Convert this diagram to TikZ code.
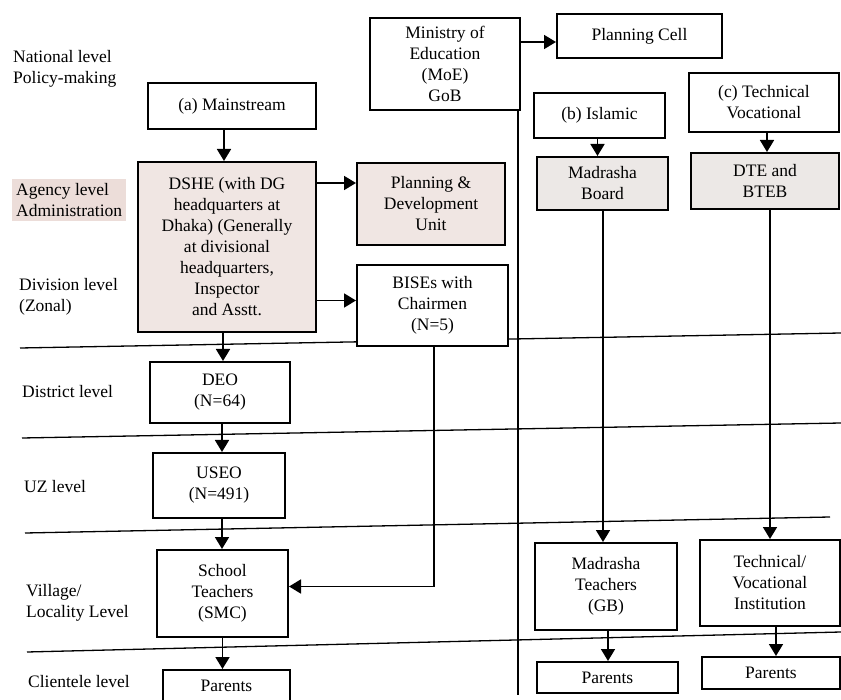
\documentclass[tikz,border=0pt]{standalone}
\usepackage{fontspec}
\setmainfont{Liberation Serif}
\usetikzlibrary{arrows.meta}
\definecolor{agencybg}{RGB}{236,221,217}
\definecolor{dshebg}{RGB}{240,230,227}
\definecolor{boardbg}{RGB}{236,232,230}
\begin{document}
\begin{tikzpicture}[x=1pt,y=-1pt,
  txt/.style={font=\fontsize{17.5}{21}\selectfont, align=center, inner sep=0pt},
  lvl/.style={font=\fontsize{17.5}{21}\selectfont, align=left, inner sep=0pt, anchor=west},
  box/.style={txt, draw, line width=2pt, fill=white},
  arr/.style={line width=1.7pt, -{Triangle[length=12pt,width=14pt]}},
  conn/.style={line width=1.7pt},
  levelline/.style={line width=1.3pt}]
\useasboundingbox (0,0) rectangle (841,700);
\fill[white] (0,0) rectangle (841,700);
% level separator lines
\draw[levelline] (20,348) -- (841,333);
\draw[levelline] (22,438) -- (841,423);
\draw[levelline] (25,533) -- (830,517);
\draw[levelline] (27,652) -- (841,632);
% level labels
\node[lvl] (lnat) at (13,69) {National level\\Policy-making};
\node[lvl, fill=agencybg, inner sep=4pt] (lagency) at (12,200) {Agency level\\Administration};
\node[lvl] (ldiv) at (19,297) {Division level\\(Zonal)};
\node[lvl] (ldist) at (22,392) {District level};
\node[lvl] (luz) at (24,487) {UZ level};
\node[lvl] (lvill) at (26,603) {Village/\\Locality Level};
\node[lvl] (lcli) at (28,682) {Clientele level};
% vertical line from the Ministry
\coordinate (mbot) at (518,695);
\draw[conn] (518,110) -- (mbot);
% boxes
\node[box, minimum width=150pt, minimum height=92pt] (moe) at (445,64) {Ministry of\\Education\\(MoE)\\GoB};
\node[box, minimum width=165pt, minimum height=44pt] (pcell) at (639.5,36) {Planning Cell};
\node[box, minimum width=168pt, minimum height=46pt] (main) at (232,106) {(a) Mainstream};
\node[box, fill=dshebg, minimum width=178pt, minimum height=170pt] (dshe) at (227,247) {DSHE (with DG\\headquarters at\\Dhaka) (Generally\\at divisional\\headquarters,\\Inspector\\and Asstt.};
\node[box, fill=dshebg, minimum width=148pt, minimum height=82pt] (pdu) at (431,204) {Planning \&\\Development\\Unit};
\node[box, minimum width=151pt, minimum height=81pt] (bise) at (432.5,305.5) {BISEs with\\Chairmen\\(N=5)};
\node[box, minimum width=131pt, minimum height=45pt] (isl) at (599.5,115.5) {(b) Islamic};
\node[box, fill=boardbg, minimum width=131pt, minimum height=53pt] (mboard) at (602.5,183.5) {Madrasha\\Board};
\node[box, minimum width=150pt, minimum height=59pt] (tech) at (764,102.5) {(c) Technical\\Vocational};
\node[box, fill=boardbg, minimum width=148pt, minimum height=56pt] (dte) at (765,181) {DTE and\\BTEB};
\node[box, minimum width=140pt, minimum height=61pt] (deo) at (220,392.5) {DEO\\(N=64)};
\node[box, minimum width=132pt, minimum height=65pt] (useo) at (219,485.5) {USEO\\(N=491)};
\node[box, minimum width=131pt, minimum height=87pt] (school) at (222.5,593.5) {School\\Teachers\\(SMC)};
\node[box, minimum width=127pt, minimum height=32pt] (par1) at (226.5,686) {Parents};
\node[box, minimum width=142pt, minimum height=87pt] (mteach) at (606,586.5) {Madrasha\\Teachers\\(GB)};
\node[box, minimum width=140pt, minimum height=86pt] (tinst) at (770,583) {Technical/\\Vocational\\Institution};
\node[box, minimum width=141pt, minimum height=31pt] (par2) at (607.5,677.5) {Parents};
\node[box, minimum width=138pt, minimum height=32pt] (par3) at (771,673) {Parents};
% connectors
\path ([yshift=-6pt]pcell.west) coordinate (pc1);
\draw[arr] (moe.east |- pc1) -- (pc1);
\path ([xshift=-8pt]main.south) coordinate (m1);
\draw[arr] (m1) -- (m1 |- dshe.north);
\path ([yshift=21pt]pdu.west) coordinate (p1);
\draw[arr] (dshe.east |- p1) -- (p1);
\path ([yshift=5pt]bise.west) coordinate (b1);
\draw[arr] (dshe.east |- b1) -- (b1);
\path ([xshift=-4pt]dshe.south) coordinate (d1);
\draw[arr] (d1) -- (d1 |- deo.north);
\path ([xshift=2pt]deo.south) coordinate (d2);
\draw[arr] (d2) -- (d2 |- useo.north);
\path ([xshift=3pt]useo.south) coordinate (d3);
\draw[arr] (d3) -- (d3 |- school.north);
\draw[arr] (school.south) -- (school.south |- par1.north);
\path ([yshift=7pt]school.east) coordinate (s1);
\draw[arr] ([xshift=1.5pt]bise.south) |- (s1);
\path ([xshift=-2pt]isl.south) coordinate (i1);
\draw[arr] (i1) -- (i1 |- mboard.north);
\path ([xshift=3pt]tech.south) coordinate (t1);
\draw[arr] (t1) -- (t1 |- dte.north);
\path ([xshift=0.5pt]mboard.south) coordinate (mb1);
\draw[arr] (mb1) -- (mb1 |- mteach.north);
\path ([xshift=5pt]dte.south) coordinate (t2);
\draw[arr] (t2) -- (t2 |- tinst.north);
\path ([xshift=2pt]mteach.south) coordinate (mt1);
\draw[arr] (mt1) -- (mt1 |- par2.north);
\path ([xshift=6pt]tinst.south) coordinate (ti1);
\draw[arr] (ti1) -- (ti1 |- par3.north);
\end{tikzpicture}
\end{document}
